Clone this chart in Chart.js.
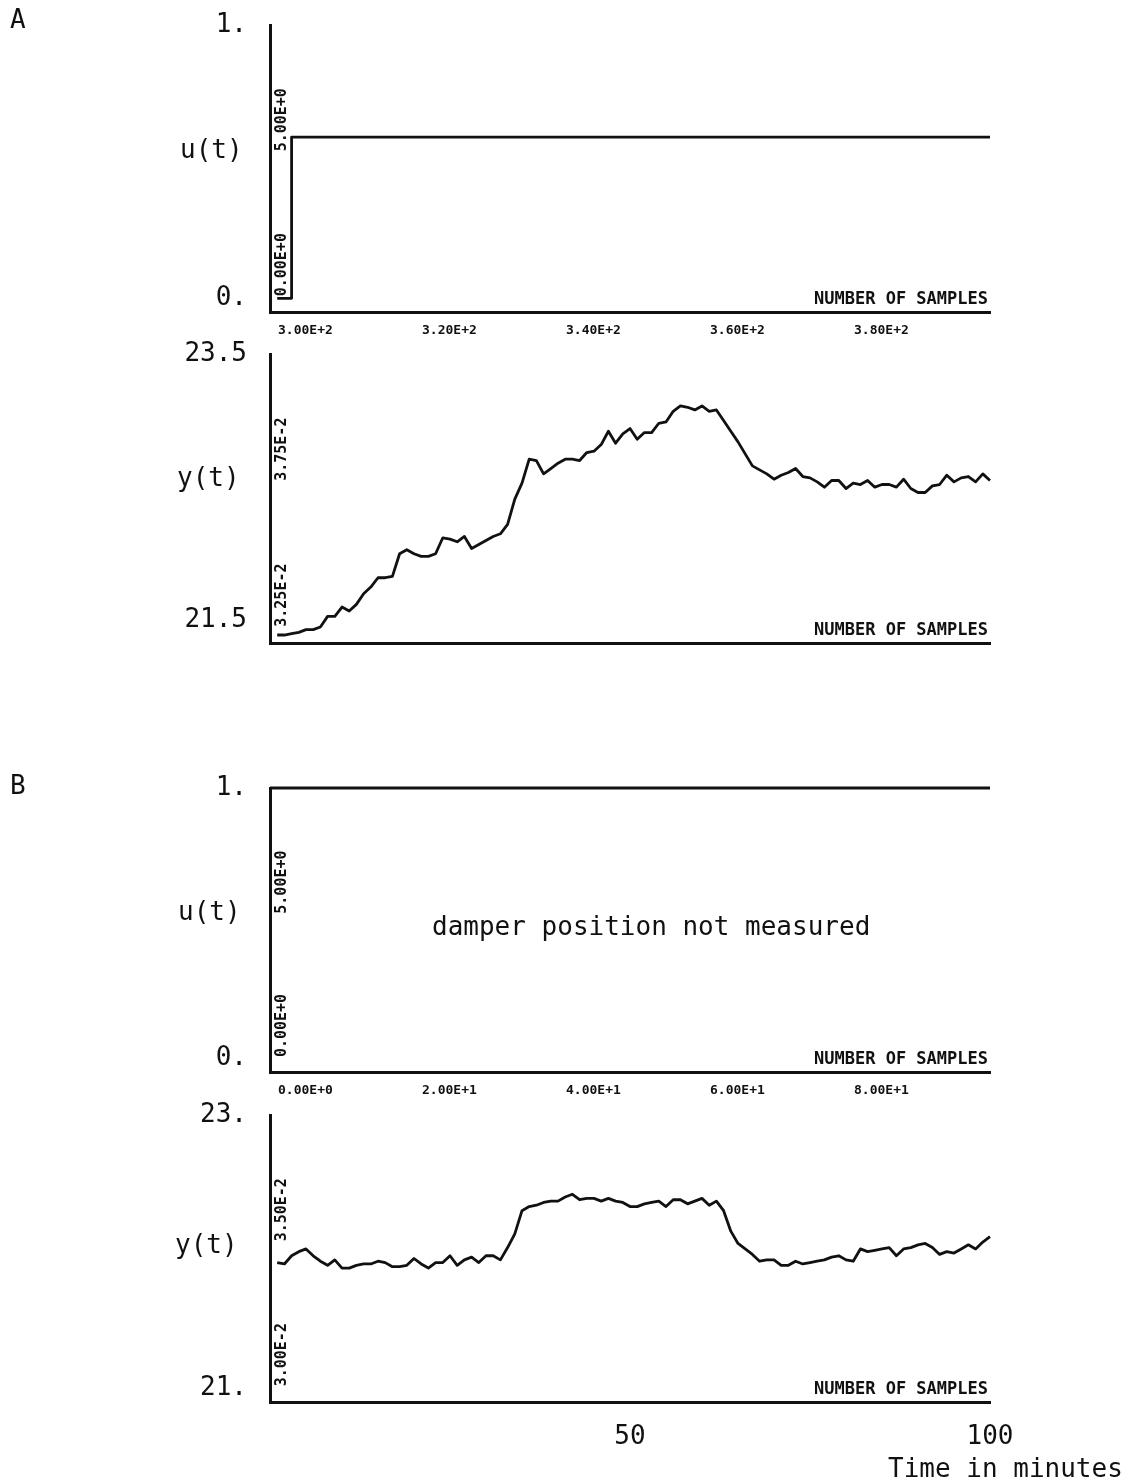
<!DOCTYPE html>
<html>
<head>
<meta charset="utf-8">
<title>Damper step response – runs A and B</title>
<script src="https://cdn.jsdelivr.net/npm/chart.js@4.4.1/dist/chart.umd.min.js"></script>
<style>
  html, body { margin: 0; padding: 0; background: #fff; }
  #page { position: relative; width: 1132px; height: 1479px; overflow: hidden; background: #fff; }
  #page canvas { position: absolute; left: 0; }
  .lbl { position: absolute; font-family: "DejaVu Sans Mono", "Liberation Mono", monospace;
         font-size: 26px; line-height: 1; color: #111; white-space: nowrap; }
</style>
</head>
<body>
<div id="page">
  <canvas id="runA_u" width="1132" height="340" style="top:0px"></canvas>
  <canvas id="runA_y" width="1132" height="320" style="top:330px"></canvas>
  <canvas id="runB_u" width="1132" height="340" style="top:760px"></canvas>
  <canvas id="runB_y" width="1132" height="389" style="top:1090px"></canvas>

  <div class="lbl" style="left:10px;top:6px">A</div>
  <div class="lbl" style="left:180px;top:136px">u(t)</div>
  <div class="lbl" style="left:177px;top:464px">y(t)</div>

  <div class="lbl" style="left:10px;top:772px">B</div>
  <div class="lbl" style="left:178px;top:898px">u(t)</div>
  <div class="lbl" style="left:432px;top:913px">damper position not measured</div>
  <div class="lbl" style="left:175px;top:1231px">y(t)</div>

  <div class="lbl" style="left:888px;top:1455px">Time in minutes</div>
</div>

<script>
// ---------------- Run A: samples 301-400 ----------------
const samplesA = [
  301,302,303,304,305,306,307,308,309,310,
  311,312,313,314,315,316,317,318,319,320,
  321,322,323,324,325,326,327,328,329,330,
  331,332,333,334,335,336,337,338,339,340,
  341,342,343,344,345,346,347,348,349,350,
  351,352,353,354,355,356,357,358,359,360,
  361,362,363,364,365,366,367,368,369,370,
  371,372,373,374,375,376,377,378,379,380,
  381,382,383,384,385,386,387,388,389,390,
  391,392,393,394,395,396,397,398,399,400
];
// measured temperature y(t), run A
const tempA = [
  21.39,21.39,21.40,21.41,21.43,21.43,21.45,21.53,21.53,21.60,
  21.57,21.62,21.70,21.75,21.82,21.82,21.83,22.00,22.03,22.00,
  21.98,21.98,22.00,22.12,22.11,22.09,22.13,22.04,22.07,22.10,
  22.13,22.15,22.22,22.41,22.53,22.71,22.70,22.60,22.64,22.68,
  22.71,22.71,22.70,22.76,22.77,22.82,22.92,22.83,22.90,22.94,
  22.86,22.91,22.91,22.98,22.99,23.07,23.11,23.10,23.08,23.11,
  23.07,23.08,23.00,22.92,22.84,22.75,22.66,22.63,22.60,22.56,
  22.59,22.61,22.64,22.58,22.57,22.54,22.50,22.55,22.55,22.49,
  22.53,22.52,22.55,22.50,22.52,22.52,22.50,22.56,22.49,22.46,
  22.46,22.51,22.52,22.59,22.54,22.57,22.58,22.54,22.60,22.55
];
// damper input u(t), run A: a single step
const stepSamplesA = [301, 303, 303, 400];
const stepValuesA  = [0, 0, 0.59, 0.59];
const sampleTicksA = [300, 320, 340, 360, 380];

// ---------------- Run B: samples 1-100 ----------------
const samplesB = [
  1,2,3,4,5,6,7,8,9,10,
  11,12,13,14,15,16,17,18,19,20,
  21,22,23,24,25,26,27,28,29,30,
  31,32,33,34,35,36,37,38,39,40,
  41,42,43,44,45,46,47,48,49,50,
  51,52,53,54,55,56,57,58,59,60,
  61,62,63,64,65,66,67,68,69,70,
  71,72,73,74,75,76,77,78,79,80,
  81,82,83,84,85,86,87,88,89,90,
  91,92,93,94,95,96,97,98,99,100
];
const tempB = [
  21.92,21.91,21.97,22.00,22.02,21.97,21.93,21.90,21.94,21.88,
  21.88,21.90,21.91,21.91,21.93,21.92,21.89,21.89,21.90,21.95,
  21.91,21.88,21.92,21.92,21.97,21.90,21.94,21.96,21.92,21.97,
  21.97,21.94,22.03,22.13,22.30,22.33,22.34,22.36,22.37,22.37,
  22.40,22.42,22.38,22.39,22.39,22.37,22.39,22.37,22.36,22.33,
  22.33,22.35,22.36,22.37,22.33,22.38,22.38,22.35,22.37,22.39,
  22.34,22.37,22.30,22.15,22.06,22.02,21.98,21.93,21.94,21.94,
  21.90,21.90,21.93,21.91,21.92,21.93,21.94,21.96,21.97,21.94,
  21.93,22.02,22.00,22.01,22.02,22.03,21.97,22.02,22.03,22.05,
  22.06,22.03,21.98,22.00,21.99,22.02,22.05,22.02,22.07,22.11
];
// damper channel, run B (held at full scale)
const damperSamplesB = [0, 100];
const damperValuesB  = [1, 1];
const sampleTicksB = [0, 20, 40, 60, 80];
const minuteTicksB  = [50, 100];
const minuteLabelsB = ['50', '100'];

// ---------------- axis labels ----------------
const uTickValues  = [0, 1];
const uTickLabels  = ['0.', '1.'];
const yTickValuesA = [21.5, 23.5];
const yTickLabelsA = ['21.5', '23.5'];
const yTickValuesB = [21, 23];
const yTickLabelsB = ['21.', '23.'];
// scale annotations printed by the plotter along the left axis
const plotterLabelsAu = ['5.00E+0', '0.00E+0'];
const plotterLabelsAy = ['3.75E-2', '3.25E-2'];
const plotterLabelsBu = ['5.00E+0', '0.00E+0'];
const plotterLabelsBy = ['3.50E-2', '3.00E-2'];
const axisCaption = 'NUMBER OF SAMPLES';

// ---------------- drawing ----------------
const INK = '#111';
const MONO = '"DejaVu Sans Mono", "Liberation Mono", monospace';

// Plotter annotations: rotated scale labels inside the left axis and the axis caption.
const plotterMarks = {
  id: 'plotterMarks',
  afterDraw(chart, args, opts) {
    const { ctx, chartArea: a } = chart;
    const h = a.bottom - a.top;
    ctx.save();
    ctx.fillStyle = INK;
    ctx.font = 'bold 15px ' + MONO;
    (opts.side || []).forEach((text, i) => {
      const y = a.top + opts.sideAt[i] * h;
      ctx.save();
      ctx.translate(a.left + 12, y);
      ctx.rotate(-Math.PI / 2);
      ctx.textAlign = 'right';
      ctx.textBaseline = 'middle';
      ctx.fillText(text, 0, 0);
      ctx.restore();
    });
    ctx.font = 'bold 17px ' + MONO;
    ctx.textAlign = 'right';
    ctx.textBaseline = 'alphabetic';
    ctx.fillText(opts.caption, a.right - 2, a.bottom - 8);
    ctx.restore();
  }
};

const toPoints = (xs, ys) => xs.map((x, i) => ({ x, y: ys[i] }));
const sci = v => Number(v).toExponential(2).toUpperCase();

const sampleTickStyle = {
  display: true, align: 'start', labelOffset: 8, padding: 3,
  autoSkip: false, maxRotation: 0, color: INK,
  font: { family: MONO, size: 13, weight: 'bold' },
  callback: v => sci(v)
};

function makePanel(id, p) {
  return new Chart(document.getElementById(id), {
    type: 'line',
    data: {
      datasets: [{
        data: toPoints(p.xs, p.ys),
        borderColor: INK, borderWidth: 2.8, pointRadius: 0,
        tension: 0, fill: false, borderJoinStyle: 'round', clip: 6
      }]
    },
    options: {
      responsive: false, animation: false, events: [],
      layout: { padding: { top: p.top, right: 142, left: 0, bottom: 0 } },
      plugins: {
        legend: { display: false }, tooltip: { enabled: false },
        plotterMarks: { side: p.side, sideAt: [0.22, 0.725], caption: axisCaption }
      },
      scales: {
        x: {
          type: 'linear', min: p.xMin, max: p.xMax,
          afterBuildTicks: s => { s.ticks = p.xTicks.map(v => ({ value: v })); },
          afterFit: s => { s.height = p.xHeight; s.paddingLeft = 0; s.paddingRight = 0; },
          grid: { display: false },
          border: { display: true, width: 3, color: INK },
          ticks: p.xTickStyle
        },
        y: {
          type: 'linear', min: p.yMin, max: p.yMax,
          afterBuildTicks: s => { s.ticks = p.yTicks.map(v => ({ value: v })); },
          afterFit: s => { s.width = 270; s.paddingTop = 0; s.paddingBottom = 0; },
          grid: { display: false },
          border: { display: true, width: 3, color: INK },
          ticks: {
            padding: 15, color: INK, autoSkip: false,
            font: { family: MONO, size: 26 },
            callback: (v, i) => p.yLabels[i]
          }
        }
      }
    },
    plugins: [plotterMarks]
  });
}

makePanel('runA_u', {
  xs: stepSamplesA, ys: stepValuesA, top: 25, xHeight: 28,
  xMin: 300, xMax: 400, xTicks: sampleTicksA, xTickStyle: sampleTickStyle,
  yMin: -0.05, yMax: 1, yTicks: uTickValues, yLabels: uTickLabels,
  side: plotterLabelsAu
});

makePanel('runA_y', {
  xs: samplesA, ys: tempA, top: 24, xHeight: 7,
  xMin: 300, xMax: 400, xTicks: sampleTicksA, xTickStyle: { display: false },
  yMin: 21.33, yMax: 23.5, yTicks: yTickValuesA, yLabels: yTickLabelsA,
  side: plotterLabelsAy
});

makePanel('runB_u', {
  xs: damperSamplesB, ys: damperValuesB, top: 28, xHeight: 28,
  xMin: 0, xMax: 100, xTicks: sampleTicksB, xTickStyle: sampleTickStyle,
  yMin: -0.05, yMax: 1, yTicks: uTickValues, yLabels: uTickLabels,
  side: plotterLabelsBu
});

makePanel('runB_y', {
  xs: samplesB, ys: tempB, top: 25, xHeight: 77,
  xMin: 0, xMax: 100, xTicks: minuteTicksB,
  xTickStyle: {
    display: true, padding: 12, autoSkip: false, maxRotation: 0, color: INK,
    font: { family: MONO, size: 26 },
    callback: (v, i) => minuteLabelsB[i]
  },
  yMin: 20.9, yMax: 23, yTicks: yTickValuesB, yLabels: yTickLabelsB,
  side: plotterLabelsBy
});
</script>
</body>
</html>
